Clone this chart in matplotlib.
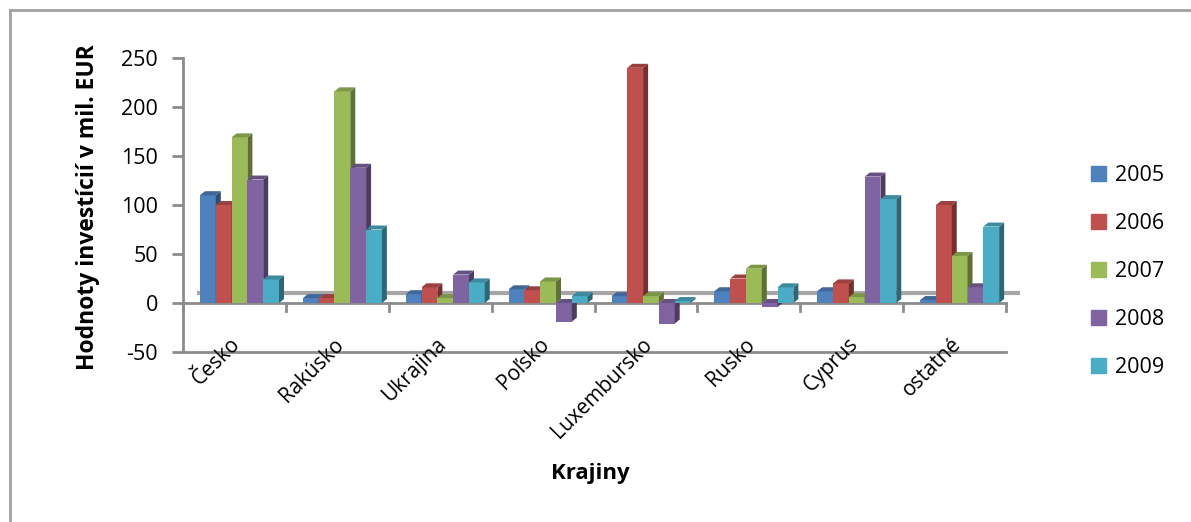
import matplotlib
matplotlib.use("Agg")
import matplotlib.pyplot as plt
from matplotlib.patches import Polygon, Rectangle
from matplotlib.lines import Line2D
import matplotlib.colors as mcolors
import numpy as np

plt.rcParams["font.family"] = ["Open Sans", "DejaVu Sans"]
plt.rcParams["axes.unicode_minus"] = False

# hodnoty investícií podľa krajín (mil. EUR)
krajiny = ["Česko", "Rakúsko", "Ukrajina", "Poľsko", "Luxembursko", "Rusko", "Cyprus", "ostatné"]
roky = ["2005", "2006", "2007", "2008", "2009"]
v2005 = [110, 5, 9, 14, 7, 12, 12, 3]
v2006 = [100, 5, 16, 13, 240, 25, 20, 100]
v2007 = [169, 216, 5, 22, 7, 35, 6, 48]
v2008 = [126, 138, 29, -19, -21, -4, 129, 16]
v2009 = [24, 75, 21, 7, 2, 16, 106, 78]
hodnoty = [v2005, v2006, v2007, v2008, v2009]
farby = ["#4F81BD", "#C0504D", "#9BBB59", "#8064A2", "#4BACC6"]

W, H = 1191, 522
fig = plt.figure(figsize=(W / 100, H / 100), dpi=100)

# plocha grafu v pixeloch
x0_px, x1_px = 183, 1006
ytop_px, ybot_px = 58, 352
ax = fig.add_axes([x0_px / W, 1 - ybot_px / H, (x1_px - x0_px) / W, (ybot_px - ytop_px) / H])
ax.set_xlim(0, len(krajiny))
ax.set_ylim(-50, 250)

# prepočet pixelov na dátové jednotky
px_x = len(krajiny) / (x1_px - x0_px)
px_y = 300 / (ybot_px - ytop_px)

def shade(c, f):
    r, g, b = mcolors.to_rgb(c)
    return (r * f, g * f, b * f)

sirka = 15.8 * px_x
start = 17 * px_x
hlbka_x = 5 * px_x
hlbka_y = 4 * px_y

# zadná hrana podlahy
ax.plot([14 * px_x, len(krajiny) + 14 * px_x], [10 * px_y, 10 * px_y],
        color="#a6a6a6", lw=3, zorder=1, solid_capstyle="butt", clip_on=False)
# os kategórií pri nule
ax.plot([0, len(krajiny)], [0, 0], color="#8c8c8c", lw=2, zorder=1.5, clip_on=False)
for i in range(len(krajiny) + 1):
    ax.plot([i, i], [0, -8 * px_y], color="#8c8c8c", lw=2, zorder=1.5, clip_on=False)

z = 2
for k in range(len(krajiny)):
    for s, rad in enumerate(hodnoty):
        v = rad[k]
        xl = k + start + s * sirka
        xr = xl + sirka
        hore, dole = max(v, 0), min(v, 0)
        c = farby[s]
        ax.bar(xl, v, width=sirka, align="edge", color=c, edgecolor="none", zorder=z)
        bok = [(xr, dole), (xr, hore), (xr + hlbka_x, hore + hlbka_y), (xr + hlbka_x, dole + hlbka_y)]
        vrch = [(xl, hore), (xr, hore), (xr + hlbka_x, hore + hlbka_y), (xl + hlbka_x, hore + hlbka_y)]
        ax.add_patch(Polygon(bok, closed=True, color=shade(c, 0.6), lw=0, zorder=z))
        ax.add_patch(Polygon(vrch, closed=True, color=shade(c, 0.8), lw=0, zorder=z))
        z += 0.01

for s in ["top", "right"]:
    ax.spines[s].set_visible(False)
for s in ["left", "bottom"]:
    ax.spines[s].set_color("#8c8c8c")
    ax.spines[s].set_linewidth(2)

ax.set_yticks(np.arange(-50, 251, 50))
ax.tick_params(axis="y", direction="out", length=8, width=2, color="#8c8c8c",
               labelsize=15.5, pad=10)
ax.set_xticks([])

# názvy krajín šikmo pod osou
for k, nazov in enumerate(krajiny):
    ax.text(k + 0.53, -39, nazov, rotation=45, ha="right", va="center",
            rotation_mode="anchor", fontsize=15, clip_on=False)

fig.text(590 / W, 1 - 473 / H, "Krajiny", ha="center", va="center", fontsize=16, fontweight="bold")
fig.text(88 / W, 1 - 207 / H, "Hodnoty investícií v mil. EUR", ha="center", va="center",
         rotation=90, fontsize=16.5, fontweight="bold")

# legenda
handles = [Rectangle((0, 0), 1, 1, color=c) for c in farby]
fig.legend(handles, roky, loc="upper left", bbox_to_anchor=(1072 / W, 1 - 146 / H),
           frameon=False, fontsize=15.5, handlelength=0.7, handleheight=0.7,
           handletextpad=0.4, labelspacing=1.25)

# rámik grafu
fig.add_artist(Line2D([9.5 / W, 9.5 / W], [0, 1 - 10 / H], color="#a0a0a0", lw=2))
fig.add_artist(Line2D([9.5 / W, 1], [1 - 10 / H, 1 - 10 / H], color="#a0a0a0", lw=2))

fig.savefig("out.png", dpi=100)
